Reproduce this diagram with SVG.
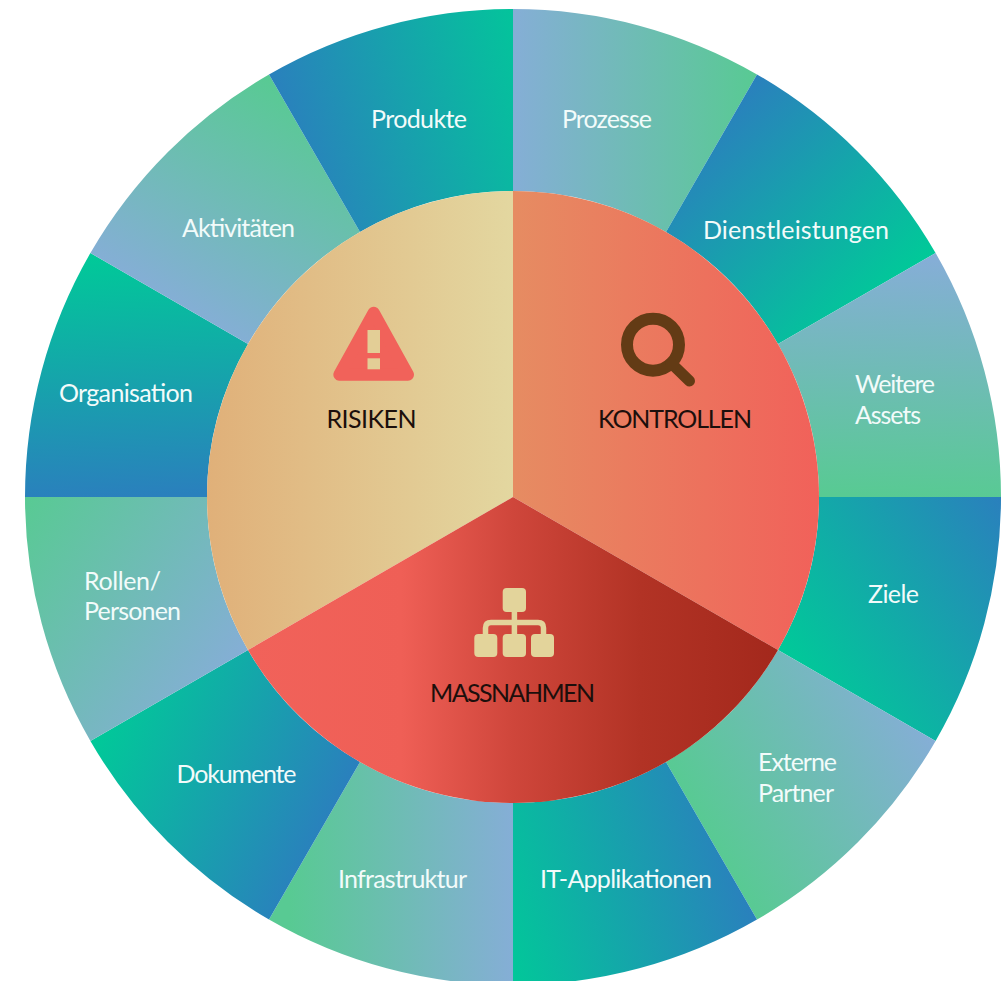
<svg xmlns="http://www.w3.org/2000/svg" width="1005" height="981" viewBox="0 0 1005 981">
<style>
.lab{font-family:"Lato","Liberation Sans",sans-serif;font-size:25px;fill:#f2fbfa}
.ttl{font-family:"Lato","Liberation Sans",sans-serif;font-size:25px;fill:#1c0f0c}
</style>
<defs>
<linearGradient id="dark"><stop offset="0" stop-color="#2a80bd"/><stop offset="1" stop-color="#00ca98"/></linearGradient>
<linearGradient id="light"><stop offset="0" stop-color="#85aed6"/><stop offset="1" stop-color="#58ca93"/></linearGradient>
<linearGradient id="g0" href="#light" gradientUnits="userSpaceOnUse" x1="513" y1="100" x2="757" y2="100"/>
<linearGradient id="g1" href="#dark" gradientUnits="userSpaceOnUse" x1="757" y1="74" x2="935" y2="253"/>
<linearGradient id="g2" href="#light" gradientUnits="userSpaceOnUse" x1="920" y1="260" x2="910" y2="497"/>
<linearGradient id="g3" href="#dark" gradientUnits="userSpaceOnUse" x1="1001" y1="497" x2="778" y2="650"/>
<linearGradient id="g4" href="#light" gradientUnits="userSpaceOnUse" x1="922" y1="719" x2="711" y2="841"/>
<linearGradient id="g5" href="#dark" gradientUnits="userSpaceOnUse" x1="757" y1="919.6" x2="505" y2="987"/>
<linearGradient id="g6" href="#light" gradientUnits="userSpaceOnUse" x1="513" y1="900" x2="290" y2="900"/>
<linearGradient id="g7" href="#dark" gradientUnits="userSpaceOnUse" x1="317" y1="849" x2="90" y2="741"/>
<linearGradient id="g8" href="#light" gradientUnits="userSpaceOnUse" x1="248" y1="650" x2="25" y2="497"/>
<linearGradient id="g9" href="#dark" gradientUnits="userSpaceOnUse" x1="110" y1="497" x2="100" y2="253"/>
<linearGradient id="g10" href="#light" gradientUnits="userSpaceOnUse" x1="160" y1="298" x2="285" y2="87"/>
<linearGradient id="g11" href="#dark" gradientUnits="userSpaceOnUse" x1="269" y1="74.4" x2="535" y2="3"/>
<linearGradient id="rk" gradientUnits="userSpaceOnUse" x1="207" y1="0" x2="513" y2="0"><stop offset="0" stop-color="#e0b079"/><stop offset="1" stop-color="#e3d7a0"/></linearGradient>
<linearGradient id="ko" gradientUnits="userSpaceOnUse" x1="513" y1="0" x2="819" y2="0"><stop offset="0" stop-color="#e68c62"/><stop offset="1" stop-color="#f1615a"/></linearGradient>
<linearGradient id="ma" gradientUnits="userSpaceOnUse" x1="248" y1="0" x2="778" y2="0"><stop offset="0" stop-color="#f1625a"/><stop offset="0.29" stop-color="#ef5f56"/><stop offset="0.5" stop-color="#cf463b"/><stop offset="0.74" stop-color="#b23325"/><stop offset="1" stop-color="#a3281c"/></linearGradient>
</defs>
<rect width="1005" height="981" fill="#fff"/>
<g id="ring">
<g id="prozesse"><path fill="url(#g0)" d="M513 9A488 488 0 0 1 757 74.4L666 232A306 306 0 0 0 513 191Z"/><text class="lab" x="562" y="128" textLength="90">Prozesse</text></g>
<g id="dienstleistungen"><path fill="url(#g1)" d="M757 74.4A488 488 0 0 1 935.6 253L778 344A306 306 0 0 0 666 232Z"/><text class="lab" x="703" y="239" textLength="186">Dienstleistungen</text></g>
<g id="assets"><path fill="url(#g2)" d="M935.6 253A488 488 0 0 1 1001 497L819 497A306 306 0 0 0 778 344Z"/><text class="lab" x="855" y="393" textLength="80">Weitere</text><text class="lab" x="855" y="424" textLength="66">Assets</text></g>
<g id="ziele"><path fill="url(#g3)" d="M1001 497A488 488 0 0 1 935.6 741L778 650A306 306 0 0 0 819 497Z"/><text class="lab" x="868" y="602.5" textLength="51">Ziele</text></g>
<g id="partner"><path fill="url(#g4)" d="M935.6 741A488 488 0 0 1 757 919.6L666 762A306 306 0 0 0 778 650Z"/><text class="lab" x="758" y="770.5" textLength="79">Externe</text><text class="lab" x="758" y="801.5" textLength="76">Partner</text></g>
<g id="it"><path fill="url(#g5)" d="M757 919.6A488 488 0 0 1 513 985L513 803A306 306 0 0 0 666 762Z"/><text class="lab" x="540" y="888" textLength="172">IT-Applikationen</text></g>
<g id="infrastruktur"><path fill="url(#g6)" d="M513 985A488 488 0 0 1 269 919.6L360 762A306 306 0 0 0 513 803Z"/><text class="lab" x="338" y="888" textLength="129">Infrastruktur</text></g>
<g id="dokumente"><path fill="url(#g7)" d="M269 919.6A488 488 0 0 1 90.4 741L248 650A306 306 0 0 0 360 762Z"/><text class="lab" x="176.5" y="782.5" textLength="120">Dokumente</text></g>
<g id="rollen"><path fill="url(#g8)" d="M90.4 741A488 488 0 0 1 25 497L207 497A306 306 0 0 0 248 650Z"/><text class="lab" x="84" y="589.5" textLength="77">Rollen/</text><text class="lab" x="84" y="620" textLength="97">Personen</text></g>
<g id="organisation"><path fill="url(#g9)" d="M25 497A488 488 0 0 1 90.4 253L248 344A306 306 0 0 0 207 497Z"/><text class="lab" x="59" y="401.5" textLength="134">Organisation</text></g>
<g id="aktivitaeten"><path fill="url(#g10)" d="M90.4 253A488 488 0 0 1 269 74.4L360 232A306 306 0 0 0 248 344Z"/><text class="lab" x="182" y="236.5" textLength="113">Aktivitäten</text></g>
<g id="produkte"><path fill="url(#g11)" d="M269 74.4A488 488 0 0 1 513 9L513 191A306 306 0 0 0 360 232Z"/><text class="lab" x="371" y="128" textLength="96">Produkte</text></g>
</g>
<g id="risiken">
<path fill="url(#rk)" d="M513 497L248 650A306 306 0 0 1 513 191Z"/>
<path d="M373.7 312.7L339.3 374.7H408Z" fill="#f1625a" stroke="#f1625a" stroke-width="12" stroke-linejoin="round"/>
<rect x="367.5" y="330" width="12.5" height="23" fill="#e3ce96"/><rect x="367.5" y="358.3" width="12.5" height="11" fill="#e3ce96"/>
<text class="ttl" x="326.5" y="428" textLength="90">RISIKEN</text>
</g>
<g id="kontrollen">
<path fill="url(#ko)" d="M513 497L513 191A306 306 0 0 1 778 650Z"/>
<circle cx="653" cy="344.7" r="26" fill="none" stroke="#633b15" stroke-width="12"/>
<path d="M671 363L689.5 381" stroke="#633b15" stroke-width="11" stroke-linecap="round"/>
<text class="ttl" x="598" y="428" textLength="154">KONTROLLEN</text>
</g>
<g id="massnahmen">
<path fill="url(#ma)" d="M513 497L778 650A306 306 0 0 1 248 650Z"/>
<g fill="#e3d49b">
<rect x="502.7" y="588" width="23.3" height="24" rx="4"/><rect x="474.3" y="634" width="23" height="23" rx="4"/><rect x="502.7" y="634" width="23.3" height="23" rx="4"/><rect x="531" y="634" width="23" height="23" rx="4"/>
</g>
<path d="M514.4 610V636M485.5 636V628Q485.5 622.5 491 622.5H538Q543.5 622.5 543.5 628V636" fill="none" stroke="#e3d49b" stroke-width="5.5"/>
<text class="ttl" x="430" y="701.5" textLength="165">MASSNAHMEN</text>
</g>
</svg>
